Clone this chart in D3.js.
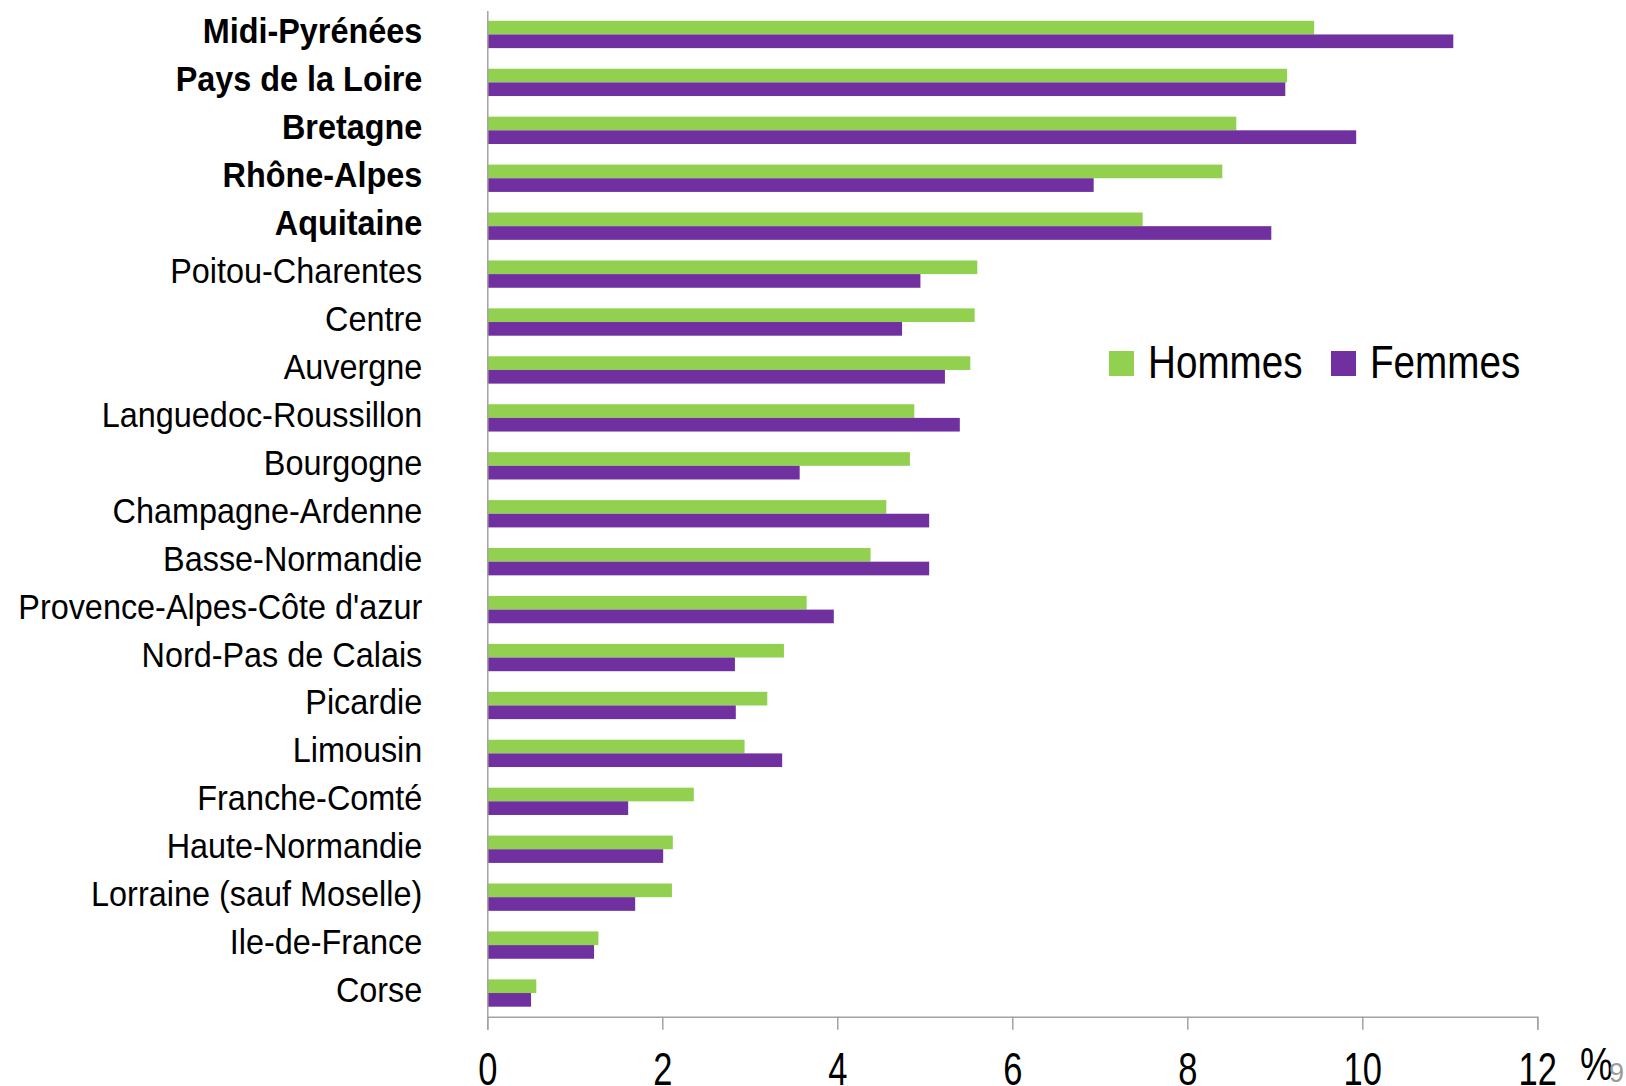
<!DOCTYPE html>
<html>
<head>
<meta charset="utf-8">
<script src="https://cdn.jsdelivr.net/npm/d3@7"></script>
<style>
  body { margin: 0; background: #fff; }
  svg text { font-family: "Liberation Sans", Arial, sans-serif; fill: #000; }
</style>
</head>
<body>
<div id="bar_chart"></div>
<script>
// regions, sorted as in the chart (top to bottom)
var regions = ["Midi-Pyrénées", "Pays de la Loire", "Bretagne", "Rhône-Alpes", "Aquitaine",
    "Poitou-Charentes", "Centre", "Auvergne", "Languedoc-Roussillon", "Bourgogne",
    "Champagne-Ardenne", "Basse-Normandie", "Provence-Alpes-Côte d'azur", "Nord-Pas de Calais",
    "Picardie", "Limousin", "Franche-Comté", "Haute-Normandie", "Lorraine (sauf Moselle)",
    "Ile-de-France", "Corse"]
// the first five are written in bold
var boldRegions = ["Midi-Pyrénées", "Pays de la Loire", "Bretagne", "Rhône-Alpes", "Aquitaine"]
// values in %
var hommes = [9.45, 9.14, 8.56, 8.40, 7.49, 5.60, 5.57, 5.52, 4.88, 4.83, 4.56,
    4.38, 3.65, 3.39, 3.20, 2.94, 2.36, 2.12, 2.11, 1.27, 0.56]
var femmes = [11.04, 9.12, 9.93, 6.93, 8.96, 4.95, 4.74, 5.23, 5.40, 3.57, 5.05,
    5.05, 3.96, 2.83, 2.84, 3.37, 1.61, 2.01, 1.69, 1.22, 0.50]
var series = ["Hommes", "Femmes"]
var colors = ["#92d050", "#7030a0"]
var xTicks = [0, 2, 4, 6, 8, 10, 12]

var width = 1626, height = 1086;
var axisColor = "#a3a3a3";

var svg = d3.select("#bar_chart")
  .append("svg")
    .attr("width", width)
    .attr("height", height);

// scales
var x = d3.scaleLinear()
  .domain([0, 12])
  .range([487.3, 1537.3]);

var y = d3.scaleBand()
  .domain(regions)
  .range([10.5, 1017])
  .paddingInner(0.43)
  .paddingOuter(0.215);

var ySub = d3.scaleBand()
  .domain(series)
  .range([0, y.bandwidth()]);

var color = d3.scaleOrdinal()
  .domain(series)
  .range(colors);

// table built from the arrays
var rows = regions.map(function(r, i) {
    return {region: r, values: [
        {key: "Hommes", value: hommes[i]},
        {key: "Femmes", value: femmes[i]}
    ]};
});

// bars
svg.append("g").selectAll("g")
  .data(rows)
  .enter().append("g")
    .attr("transform", function(d) { return "translate(0," + y(d.region) + ")"; })
  .selectAll("rect")
  .data(function(d) { return d.values; })
  .enter().append("rect")
    .attr("x", x(0))
    .attr("y", function(d) { return ySub(d.key); })
    .attr("width", function(d) { return x(d.value) - x(0); })
    .attr("height", ySub.bandwidth())
    .attr("fill", function(d) { return color(d.key); });

// x axis
var xAxis = svg.append("g")
  .attr("transform", "translate(0,1016.7)")
  .call(d3.axisBottom(x).tickValues(xTicks).tickSize(13).tickSizeOuter(13).tickPadding(23));
xAxis.selectAll("path, line").attr("stroke", axisColor).attr("stroke-width", 1.5);
xAxis.selectAll("text")
  .style("font-size", "46px")
  .attr("transform", "scale(0.75,1)");

// y axis (line + region labels)
var yAxis = svg.append("g")
  .attr("transform", "translate(" + x(0) + ",0)")
  .call(d3.axisLeft(y).tickSize(0).tickSizeOuter(0).tickPadding(65));
yAxis.select(".domain").attr("stroke", axisColor).attr("stroke-width", 1.5);
yAxis.selectAll("text")
  .style("font-size", "36px")
  .style("font-weight", function(d) { return boldRegions.indexOf(d) >= 0 ? "bold" : "normal"; })
  .attr("dy", "0.25em")
  .attr("x", -65 / 0.9)
  .attr("transform", "scale(0.9,1)");

// legend
var legend = svg.append("g").selectAll("g")
  .data(series)
  .enter().append("g")
    .attr("transform", function(d, i) { return "translate(" + (1109 + i * 222) + ",351)"; });
legend.append("rect")
    .attr("width", 25)
    .attr("height", 25)
    .attr("fill", function(d) { return color(d); });
legend.append("text")
    .attr("transform", "translate(39,27) scale(0.84,1)")
    .style("font-size", "46px")
    .text(function(d) { return d; });

// unit label and stray page number
svg.append("text")
    .attr("transform", "translate(1580,1080) scale(0.8,1)")
    .style("font-size", "46px")
    .text("%");
svg.append("text")
    .attr("x", 1609)
    .attr("y", 1082)
    .style("font-size", "27px")
    .style("fill", "#9a9a9a")
    .text("9");
</script>
</body>
</html>
